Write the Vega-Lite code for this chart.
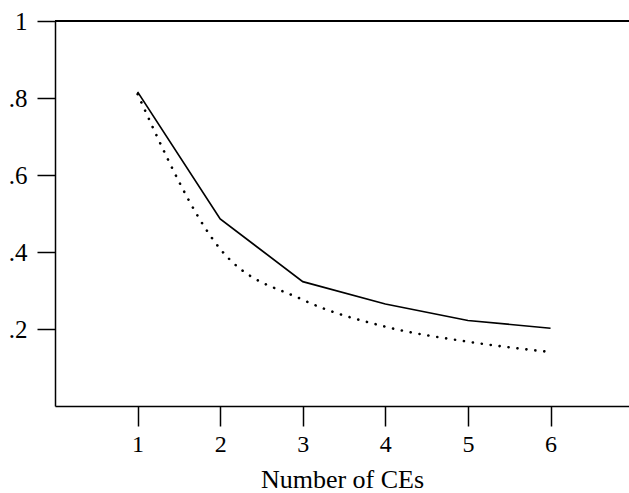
{
  "$schema": "https://vega.github.io/schema/vega-lite/v6.json",
  "width": 574,
  "height": 385,
  "autosize": "none",
  "padding": {"left": 55, "top": 21, "right": 0, "bottom": 87},
  "background": "white",
  "config": {
    "view": {"stroke": null},
    "font": "Liberation Serif",
    "axis": {
      "grid": false,
      "domainColor": "black",
      "domainWidth": 1.5,
      "tickColor": "black",
      "tickWidth": 1.5,
      "labelColor": "black",
      "titleColor": "black",
      "labelFont": "Liberation Serif",
      "titleFont": "Liberation Serif",
      "labelFontWeight": "normal",
      "titleFontWeight": "normal"
    }
  },
  "data": {
    "values": [
      {"n": 1, "p": 0.816, "series": "solid"},
      {"n": 2, "p": 0.486, "series": "solid"},
      {"n": 3, "p": 0.323, "series": "solid"},
      {"n": 4, "p": 0.265, "series": "solid"},
      {"n": 5, "p": 0.222, "series": "solid"},
      {"n": 6, "p": 0.202, "series": "solid"},
      {"n": 1, "p": 0.81, "series": "dotted"},
      {"n": 2, "p": 0.408, "series": "dotted"},
      {"n": 3, "p": 0.276, "series": "dotted"},
      {"n": 4, "p": 0.206, "series": "dotted"},
      {"n": 5, "p": 0.167, "series": "dotted"},
      {"n": 6, "p": 0.14, "series": "dotted"}
    ]
  },
  "encoding": {
    "x": {
      "field": "n",
      "type": "quantitative",
      "scale": {"domain": [0, 6.95], "nice": false, "zero": false},
      "axis": {
        "values": [1, 2, 3, 4, 5, 6],
        "tickSize": 20,
        "labelPadding": 6,
        "labelFontSize": 24,
        "title": "Number of CEs",
        "titleFontSize": 26,
        "titlePadding": 10
      }
    },
    "y": {
      "field": "p",
      "type": "quantitative",
      "scale": {"domain": [0, 1], "nice": false},
      "axis": {
        "values": [0.2, 0.4, 0.6, 0.8, 1],
        "tickSize": 18,
        "labelPadding": 10,
        "labelFontSize": 25,
        "labelExpr": "datum.value >= 1 ? '1' : '.' + format(datum.value * 10, 'd')",
        "title": null
      }
    }
  },
  "layer": [
    {
      "mark": {"type": "rule", "color": "black", "strokeWidth": 1.5},
      "encoding": {"x": null, "y": {"datum": 1, "type": "quantitative"}}
    },
    {
      "transform": [{"filter": "datum.series === 'solid'"}],
      "mark": {"type": "line", "color": "black", "strokeWidth": 1.7}
    },
    {
      "transform": [{"filter": "datum.series === 'dotted'"}],
      "mark": {
        "type": "line",
        "color": "black",
        "strokeWidth": 2.6,
        "strokeCap": "round",
        "strokeDash": [0.1, 8.9],
        "interpolate": "monotone"
      }
    }
  ]
}
